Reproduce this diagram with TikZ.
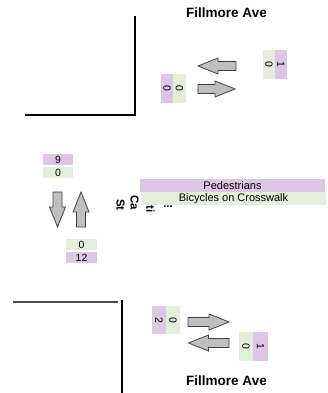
\documentclass[tikz,border=0pt]{standalone}
\usepackage{fontspec}
\setmainfont{Liberation Sans}
\usepackage{tikz}
\usetikzlibrary{positioning, calc}
\usepackage{xcolor}
\definecolor{ped}{HTML}{E0C6E6}
\definecolor{bike}{HTML}{E2EFDA}
\definecolor{arrowgray}{HTML}{BFBFBF}
\definecolor{arrowedge}{HTML}{404040}

\tikzset{
  pics/fatarrow/.style={code={
    \draw[arrowbody] (0,-4.5) -- ({#1-20},-4.5) -- ({#1-20},-8) -- (#1,0)
      -- ({#1-20},8) -- ({#1-20},4.5) -- (0,4.5) -- cycle;
  }},
}

\begin{document}
\begin{tikzpicture}[
  x=1pt, y=1pt,
  every node/.style={font=\fontsize{10.5}{12}\selectfont},
  curb/.style={draw=black, line width=1.1pt},
  arrowbody/.style={fill=arrowgray, draw=arrowedge, line width=0.8pt},
  street/.style={font=\fontsize{13.5}{15}\selectfont\bfseries},
  cnt/.style={inner sep=0pt, minimum width=30pt, minimum height=11pt},
  pedbox/.style={cnt, fill=ped},
  bikebox/.style={cnt, fill=bike},
  vcnt/.style={inner sep=0pt, minimum width=29pt, minimum height=13pt, rotate=-90},
  vped/.style={vcnt, fill=ped},
  vbike/.style={vcnt, fill=bike},
  bar/.style={inner sep=0pt, minimum width=185pt, minimum height=13pt,
              font=\fontsize{11}{12}\selectfont},
  side/.style={rotate=-90, inner sep=0pt, font=\fontsize{11.5}{12}\selectfont\bfseries},
]
  \useasboundingbox (0,0) rectangle (327,393);

  % corners of the intersection
  \draw[curb] (25,278) -- (135,278) -- (135,377);
  \draw[curb, draw=black!70] (13,91) -- (118,91);
  \draw[curb] (122,93) -- (122,0);

  % street names
  \node[street] (aveN) at (226.5,380) {Fillmore Ave};
  \node[street] (aveS) at (226.5,12) {Fillmore Ave};

  % side street label (partly hidden)
  \node[side] (sideA) at (120.5,188) {St};
  \node[side] (sideB) at (134.5,190.5) {Ca};
  \node[side] (sideC) at (150.5,183.5) {ti};
  \node[inner sep=0pt, font=\fontsize{11}{12}\selectfont\bfseries] (sideD) at (168,186) {...};

  % legend bars
  \node[bar, fill=ped] (legPed) at (232.5,207.5) {Pedestrians};
  \node[bar, fill=bike] (legBike) at (233.5,194.5) {Bicycles on Crosswalk};

  % north approach
  \node[vped] (nwPed) at (167,304.5) {0};
  \node[vbike, minimum height=13pt] (nwBike) at (179.5,304.5) {0};
  \node[vbike, minimum height=12pt] (neBike) at (269,328.5) {0};
  \node[vped, minimum height=12pt] (nePed) at (281,328.5) {1};
  \pic[rotate=180] (arrNW) at (236,327) {fatarrow=38};
  \pic (arrNE) at (198,304) {fatarrow=37};

  % west approach
  \node[pedbox] (wPed) at (58,233.5) {9};
  \node[bikebox] (wBike) at (58,220) {0};
  \node[bikebox, minimum width=31pt] (swBike) at (81.5,148.5) {0};
  \node[pedbox, minimum width=31pt] (swPed) at (81.5,135.5) {12};
  \pic[rotate=-90] (arrWD) at (57.5,201) {fatarrow=35};
  \pic[rotate=90] (arrWU) at (81,166) {fatarrow=35};

  % south approach
  \node[vped, minimum width=28pt, minimum height=14pt] (sPed) at (159,73) {2};
  \node[vbike, minimum width=28pt, minimum height=14pt] (sBike) at (173,73) {0};
  \node[vbike, minimum height=14pt] (seBike) at (246,46.5) {0};
  \node[vped, minimum height=15pt] (sePed) at (260.5,46.5) {1};
  \pic (arrSE) at (188,71) {fatarrow=41};
  \pic[rotate=180] (arrSW) at (229,50) {fatarrow=40.5};
\end{tikzpicture}
\end{document}
